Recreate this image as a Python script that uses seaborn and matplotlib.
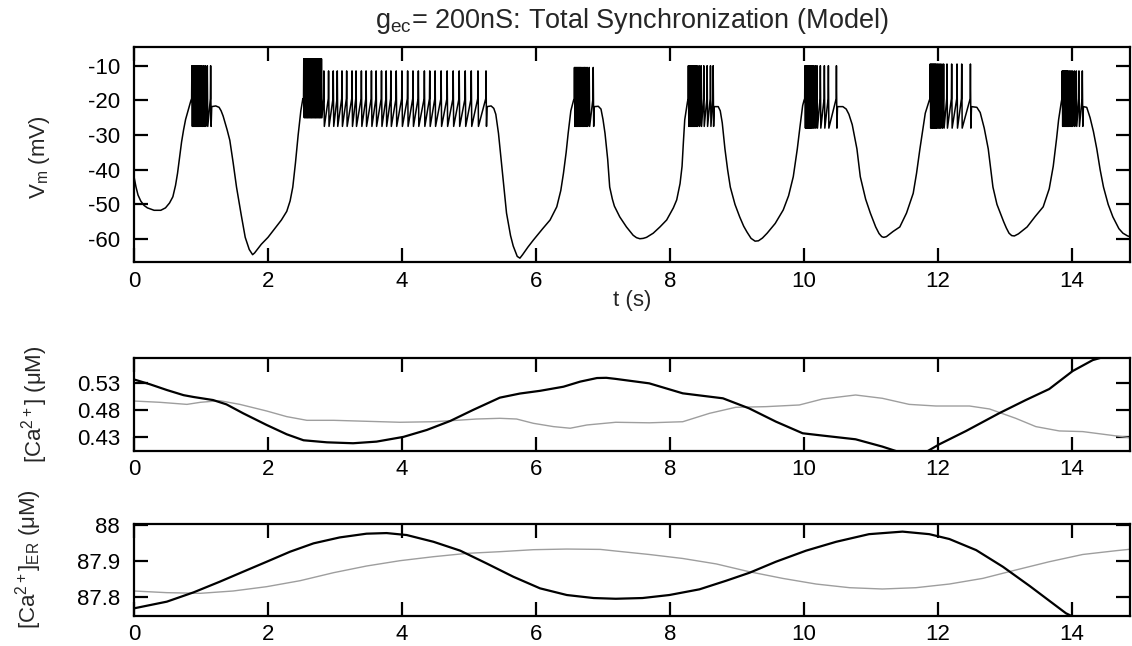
import numpy as np
import pandas as pd
import matplotlib
matplotlib.use("Agg")
import matplotlib.pyplot as plt
import seaborn as sns

# ---------------- data ----------------
# membrane potential: slow-wave vertices between bursts (t in s, V in mV)
slow_segments = [
    ([0.0, 0.03, 0.06, 0.1, 0.15, 0.2, 0.3, 0.4, 0.47, 0.53, 0.58, 0.62, 0.65, 0.68, 0.71, 0.74,
      0.77, 0.81, 0.85],
     [-42, -45, -47.3, -49, -50.3, -51, -51.7, -51.7, -51, -49.6, -47.8, -44.5, -41, -36.5, -32,
      -28.5, -25.5, -22.7, -20]),
    ([1.16, 1.22, 1.27, 1.3, 1.33, 1.36, 1.39, 1.43, 1.48, 1.53, 1.6, 1.66, 1.72, 1.77, 1.8,
      1.9, 2.0, 2.1, 2.2, 2.28, 2.33, 2.37, 2.41, 2.45, 2.49, 2.52],
     [-21.8, -21.6, -22.0, -23, -24.5, -26.5, -28.5, -31.5, -38, -45, -53, -59.5, -63, -64.5,
      -64, -61.5, -59.5, -57, -54.5, -52, -49, -45, -38, -30, -23, -19.5]),
    ([5.27, 5.33, 5.37, 5.4, 5.44, 5.49, 5.56, 5.62, 5.66, 5.72, 5.76, 5.8, 5.88, 5.96, 6.1,
      6.21, 6.31, 6.37, 6.41, 6.45, 6.48, 6.52, 6.56],
     [-21.8, -21.6, -22.3, -24, -29.5, -39, -52.5, -59, -62, -65, -65.5, -64.5, -62.3, -60.3,
      -57, -54.5, -50.7, -46, -41, -35, -29.5, -23, -20]),
    ([6.87, 6.93, 6.97, 7.0, 7.03, 7.07, 7.1, 7.14, 7.17, 7.25, 7.35, 7.45, 7.5, 7.55, 7.6,
      7.65, 7.75, 7.85, 7.95, 8.05, 8.1, 8.15, 8.18, 8.2, 8.22, 8.26],
     [-21.8, -21.7, -22.5, -25.5, -29.5, -37, -45, -48.5, -50.5, -53.6, -56.5, -58.9, -59.6,
      -59.9, -59.8, -59.5, -58.3, -56.5, -54.5, -51, -48.7, -44, -39, -32, -25.6, -20.5]),
    ([8.66, 8.72, 8.75, 8.78, 8.82, 8.86, 8.9, 8.97, 9.04, 9.1, 9.15, 9.21, 9.27, 9.32, 9.38,
      9.45, 9.57, 9.69, 9.77, 9.84, 9.9, 9.94, 9.98, 10.0],
     [-21.8, -21.8, -23, -26.5, -34, -40, -45, -50, -53.6, -56.3, -58, -59.8, -60.6, -60.5,
      -59.7, -58.3, -55.5, -51.6, -47.5, -42, -34, -27.6, -21.5, -20]),
    ([10.5, 10.58, 10.63, 10.67, 10.72, 10.79, 10.84, 10.92, 10.99, 11.07, 11.12, 11.16, 11.19,
      11.23, 11.27, 11.33, 11.43, 11.53, 11.63, 11.68, 11.73, 11.81, 11.87],
     [-21.8, -21.8, -22.5, -24, -27, -34, -42, -48.5, -52.5, -56.5, -58.4, -59.3, -59.5, -59.3,
      -58.7, -57.8, -56.5, -52.5, -46.8, -41, -34, -23.7, -20]),
    ([12.5, 12.58, 12.63, 12.69, 12.75, 12.82, 12.88, 12.93, 12.98, 13.02, 13.06, 13.1, 13.14,
      13.2, 13.33, 13.45, 13.57, 13.66, 13.72, 13.77, 13.8, 13.84],
     [-21.8, -22, -23.5, -28, -34, -45, -50, -52.5, -55, -56.8, -58.3, -59, -59.1, -58.5, -56.5,
      -53.5, -50.7, -45.5, -39, -31, -25.6, -20.5]),
    ([14.17, 14.22, 14.27, 14.32, 14.37, 14.42, 14.47, 14.54, 14.61, 14.7, 14.76, 14.83, 14.9],
     [-21.8, -22, -25, -29, -34, -40, -45, -50, -53.6, -57, -58.3, -59.1, -59.5]),
]

# spike times of each burst, with spike peak and trough levels (mV)
burst_spikes = [
    [0.86, 0.875, 0.89, 0.905, 0.92, 0.935, 0.95, 0.97, 0.99, 1.01, 1.035, 1.06, 1.09, 1.14],
    [2.53, 2.542, 2.554, 2.566, 2.578, 2.59, 2.602, 2.614, 2.626, 2.638, 2.65, 2.662, 2.674,
     2.686, 2.698, 2.71, 2.722, 2.734, 2.746, 2.758, 2.77, 2.782, 2.794],
    [2.83, 2.90, 2.97, 3.03, 3.10, 3.17, 3.25, 3.31, 3.39, 3.46, 3.54, 3.61, 3.69, 3.76, 3.83,
     3.91, 3.995, 4.08, 4.16, 4.24, 4.33, 4.41, 4.49, 4.58, 4.67, 4.76, 4.85, 4.94, 5.03, 5.13,
     5.25],
    [6.57, 6.585, 6.60, 6.615, 6.63, 6.645, 6.66, 6.68, 6.70, 6.72, 6.74, 6.76, 6.79, 6.85],
    [8.27, 8.285, 8.30, 8.315, 8.33, 8.345, 8.36, 8.38, 8.40, 8.43, 8.46, 8.50, 8.55, 8.60, 8.64],
    [10.01, 10.025, 10.04, 10.055, 10.07, 10.085, 10.10, 10.12, 10.14, 10.165, 10.19, 10.24,
     10.30, 10.36, 10.48],
    [11.88, 11.895, 11.91, 11.925, 11.94, 11.955, 11.97, 11.99, 12.01, 12.03, 12.055, 12.08,
     12.13, 12.20, 12.28, 12.35, 12.48],
    [13.85, 13.865, 13.88, 13.895, 13.91, 13.925, 13.94, 13.96, 13.98, 14.0, 14.03, 14.06,
     14.10, 14.15],
]
burst_peak = [-10, -8, -11.5, -10.5, -10, -10, -9.5, -11.5]
burst_trough = [-27.5, -25, -27.5, -27.5, -27.5, -28, -28, -27.5]
burst_base = -19.5

# cytosolic Ca (uM): black = cell 1, gray = cell 2
ca_t_black = [0, 0.24, 0.49, 0.74, 0.89, 1.18, 1.38, 1.63, 1.98, 2.28, 2.53, 2.88, 3.27, 3.62,
              4.02, 4.37, 4.72, 5.06, 5.46, 5.76, 6.06, 6.41, 6.66, 6.91, 7.05, 7.19, 7.69,
              8.19, 8.39, 8.79, 9.18, 9.58, 9.98, 10.28, 10.77, 11.17, 11.42, 11.82, 12.02,
              12.42, 12.91, 13.31, 13.66, 14.01, 14.31, 14.46, 14.6, 14.9]
ca_v_black = [0.536, 0.527, 0.5165, 0.507, 0.5036, 0.498, 0.490, 0.4735, 0.452, 0.4348, 0.4238,
              0.420, 0.4183, 0.4213, 0.430, 0.4428, 0.4594, 0.4797, 0.5024, 0.510, 0.515,
              0.5226, 0.532, 0.5386, 0.539, 0.537, 0.5288, 0.5104, 0.5073, 0.5012, 0.4827,
              0.4582, 0.4367, 0.4324, 0.4256, 0.4121, 0.402, 0.402, 0.4164, 0.441, 0.4735,
              0.498, 0.5183, 0.5515, 0.5717, 0.577, 0.58, 0.585]
ca_t_gray = [0.0, 0.39, 0.79, 0.99, 1.28, 1.58, 1.98, 2.28, 2.58, 2.98, 3.47, 3.97, 4.47, 4.82,
             5.11, 5.46, 5.71, 5.96, 6.26, 6.51, 6.76, 7.19, 7.69, 8.19, 8.59, 8.98, 9.43,
             9.93, 10.28, 10.77, 11.17, 11.57, 11.97, 12.47, 12.77, 13.16, 13.46, 13.81,
             14.16, 14.46, 14.9]
ca_v_gray = [0.4962, 0.4938, 0.490, 0.4938, 0.4968, 0.490, 0.4778, 0.4674, 0.4606, 0.4606,
             0.4588, 0.457, 0.458, 0.4606, 0.463, 0.4643, 0.463, 0.4551, 0.449, 0.446, 0.452,
             0.457, 0.456, 0.458, 0.4735, 0.4846, 0.4858, 0.4889, 0.5, 0.5073, 0.5012, 0.490,
             0.487, 0.487, 0.4815, 0.4643, 0.449, 0.441, 0.4398, 0.435, 0.428]

# ER Ca (uM)
er_t_black = [0, 0.49, 0.89, 1.28, 1.63, 1.98, 2.33, 2.68, 3.07, 3.47, 3.77, 4.07, 4.47, 4.87,
              5.26, 5.66, 6.06, 6.46, 6.86, 7.19, 7.59, 7.99, 8.44, 8.84, 9.19, 9.58, 10.03,
              10.48, 10.97, 11.47, 11.87, 12.17, 12.57, 12.97, 13.37, 13.66, 13.91, 14.2, 14.9]
er_v_black = [87.7696, 87.788, 87.8137, 87.843, 87.8706, 87.898, 87.9257, 87.9487, 87.965,
              87.9753, 87.977, 87.9716, 87.953, 87.9285, 87.8936, 87.8568, 87.8247, 87.8063,
              87.798, 87.796, 87.798, 87.8063, 87.822, 87.8458, 87.8679, 87.898, 87.9285,
              87.953, 87.974, 87.981, 87.974, 87.9606, 87.930, 87.884, 87.831, 87.7907,
              87.756, 87.73, 87.67]
er_t_gray = [0, 0.49, 0.99, 1.48, 1.98, 2.48, 2.98, 3.47, 3.97, 4.47, 4.97, 5.46, 5.96, 6.46,
             6.96, 7.19, 7.69, 8.19, 8.69, 9.18, 9.68, 10.18, 10.68, 11.17, 11.67, 12.17,
             12.67, 13.16, 13.66, 14.16, 14.66, 14.9]
er_v_gray = [87.8174, 87.8128, 87.811, 87.8174, 87.8293, 87.8458, 87.8679, 87.8862, 87.9009,
             87.9119, 87.9211, 87.9257, 87.9312, 87.933, 87.932, 87.9275, 87.918, 87.907,
             87.892, 87.8706, 87.8522, 87.8366, 87.8265, 87.8229, 87.8265, 87.8366, 87.8522,
             87.8752, 87.898, 87.918, 87.9285, 87.933]

x_ticks = [0, 2, 4, 6, 8, 10, 12, 14]
vm_ticks = [-60, -50, -40, -30, -20, -10]
ca_ticks = [0.43, 0.48, 0.53]
ca_ticklabels = ["0.43", "0.48", "0.53"]
er_ticks = [87.8, 87.9, 88.0]
er_ticklabels = ["87.8", "87.9", "88"]

title = "g$_{\\mathrm{ec}}$= 200nS: Total Synchronization (Model)"

# ---------------- build the Vm trace ----------------
bursts_after_segment = [[0], [1, 2], [3], [4], [5], [6], [7]]
vt, vv = [], []
for i, (st, sv) in enumerate(slow_segments):
    vt += list(st)
    vv += list(sv)
    if i < len(bursts_after_segment):
        for b in bursts_after_segment[i]:
            for tk in burst_spikes[b]:
                vt += [tk, tk + 0.004, tk + 0.011]
                vv += [burst_base, burst_peak[b], burst_trough[b]]
vm_df = pd.DataFrame({"t": vt, "V": vv})

# ---------------- figure ----------------
sns.set_theme(style="ticks")
plt.rcParams["font.family"] = ["Liberation Sans", "DejaVu Sans"]
plt.rcParams["mathtext.fontset"] = "custom"
plt.rcParams["mathtext.rm"] = "Liberation Sans"
plt.rcParams["mathtext.it"] = "Liberation Sans:italic"
plt.rcParams["mathtext.default"] = "regular"
plt.rcParams["axes.unicode_minus"] = False

fig = plt.figure(figsize=(11.32, 6.46), dpi=100)
W, H = 1132.0, 646.0
def box(l, t, r, b):
    return [l / W, 1 - b / H, (r - l) / W, (b - t) / H]

ax1 = fig.add_axes(box(134, 47, 1130, 262.3))
ax2 = fig.add_axes(box(134, 358.3, 1130, 451))
ax3 = fig.add_axes(box(134, 524, 1130, 616))

sns.lineplot(data=vm_df, x="t", y="V", ax=ax1, color="black", lw=1.1,
             estimator=None, sort=False)
sns.lineplot(x=ca_t_gray, y=ca_v_gray, ax=ax2, color="0.62", lw=1.0, estimator=None, sort=False)
sns.lineplot(x=ca_t_black, y=ca_v_black, ax=ax2, color="black", lw=1.6, estimator=None, sort=False)
sns.lineplot(x=er_t_gray, y=er_v_gray, ax=ax3, color="0.62", lw=1.0, estimator=None, sort=False)
sns.lineplot(x=er_t_black, y=er_v_black, ax=ax3, color="black", lw=1.6, estimator=None, sort=False)

xmax = (1130 - 134) / 67.0
ax1.set_ylim(-66.7, -4.6)
ax1.set_yticks(vm_ticks)
ax2.set_ylim(0.404, 0.575)
ax2.set_yticks(ca_ticks)
ax2.set_yticklabels(ca_ticklabels)
ax3.set_ylim(87.7485, 88.002)
ax3.set_yticks(er_ticks)
ax3.set_yticklabels(er_ticklabels)

for ax in (ax1, ax2, ax3):
    ax.set_xlim(0, xmax)
    ax.set_xticks(x_ticks)
    ax.set_xticklabels([str(v) for v in x_ticks])
    ax.tick_params(direction="in", length=10, width=1.6, top=True, right=True,
                   labelsize=16, colors="black")
    ax.tick_params(axis="x", pad=6)
    ax.tick_params(axis="y", pad=10)
    for s in ax.spines.values():
        s.set_linewidth(1.6)
        s.set_color("black")
    ax.set_xlabel("")

ax1.set_title(title, fontsize=19.5, pad=14)
ax1.set_xlabel("t (s)", fontsize=16, labelpad=-1)
ax1.set_ylabel("V$_{\\mathrm{m}}$ (mV)", fontsize=16)
ax2.set_ylabel("[Ca$^{\\mathrm{2+}}$] (μM)", fontsize=16)
ax3.set_ylabel("[Ca$^{\\mathrm{2+}}$]$_{\\mathrm{ER}}$ (μM)", fontsize=16)
ax1.yaxis.set_label_coords(-0.082, 0.49)
ax2.yaxis.set_label_coords(-0.084, 0.5)
ax3.yaxis.set_label_coords(-0.09, 0.62)

fig.savefig("out.png", dpi=100)
